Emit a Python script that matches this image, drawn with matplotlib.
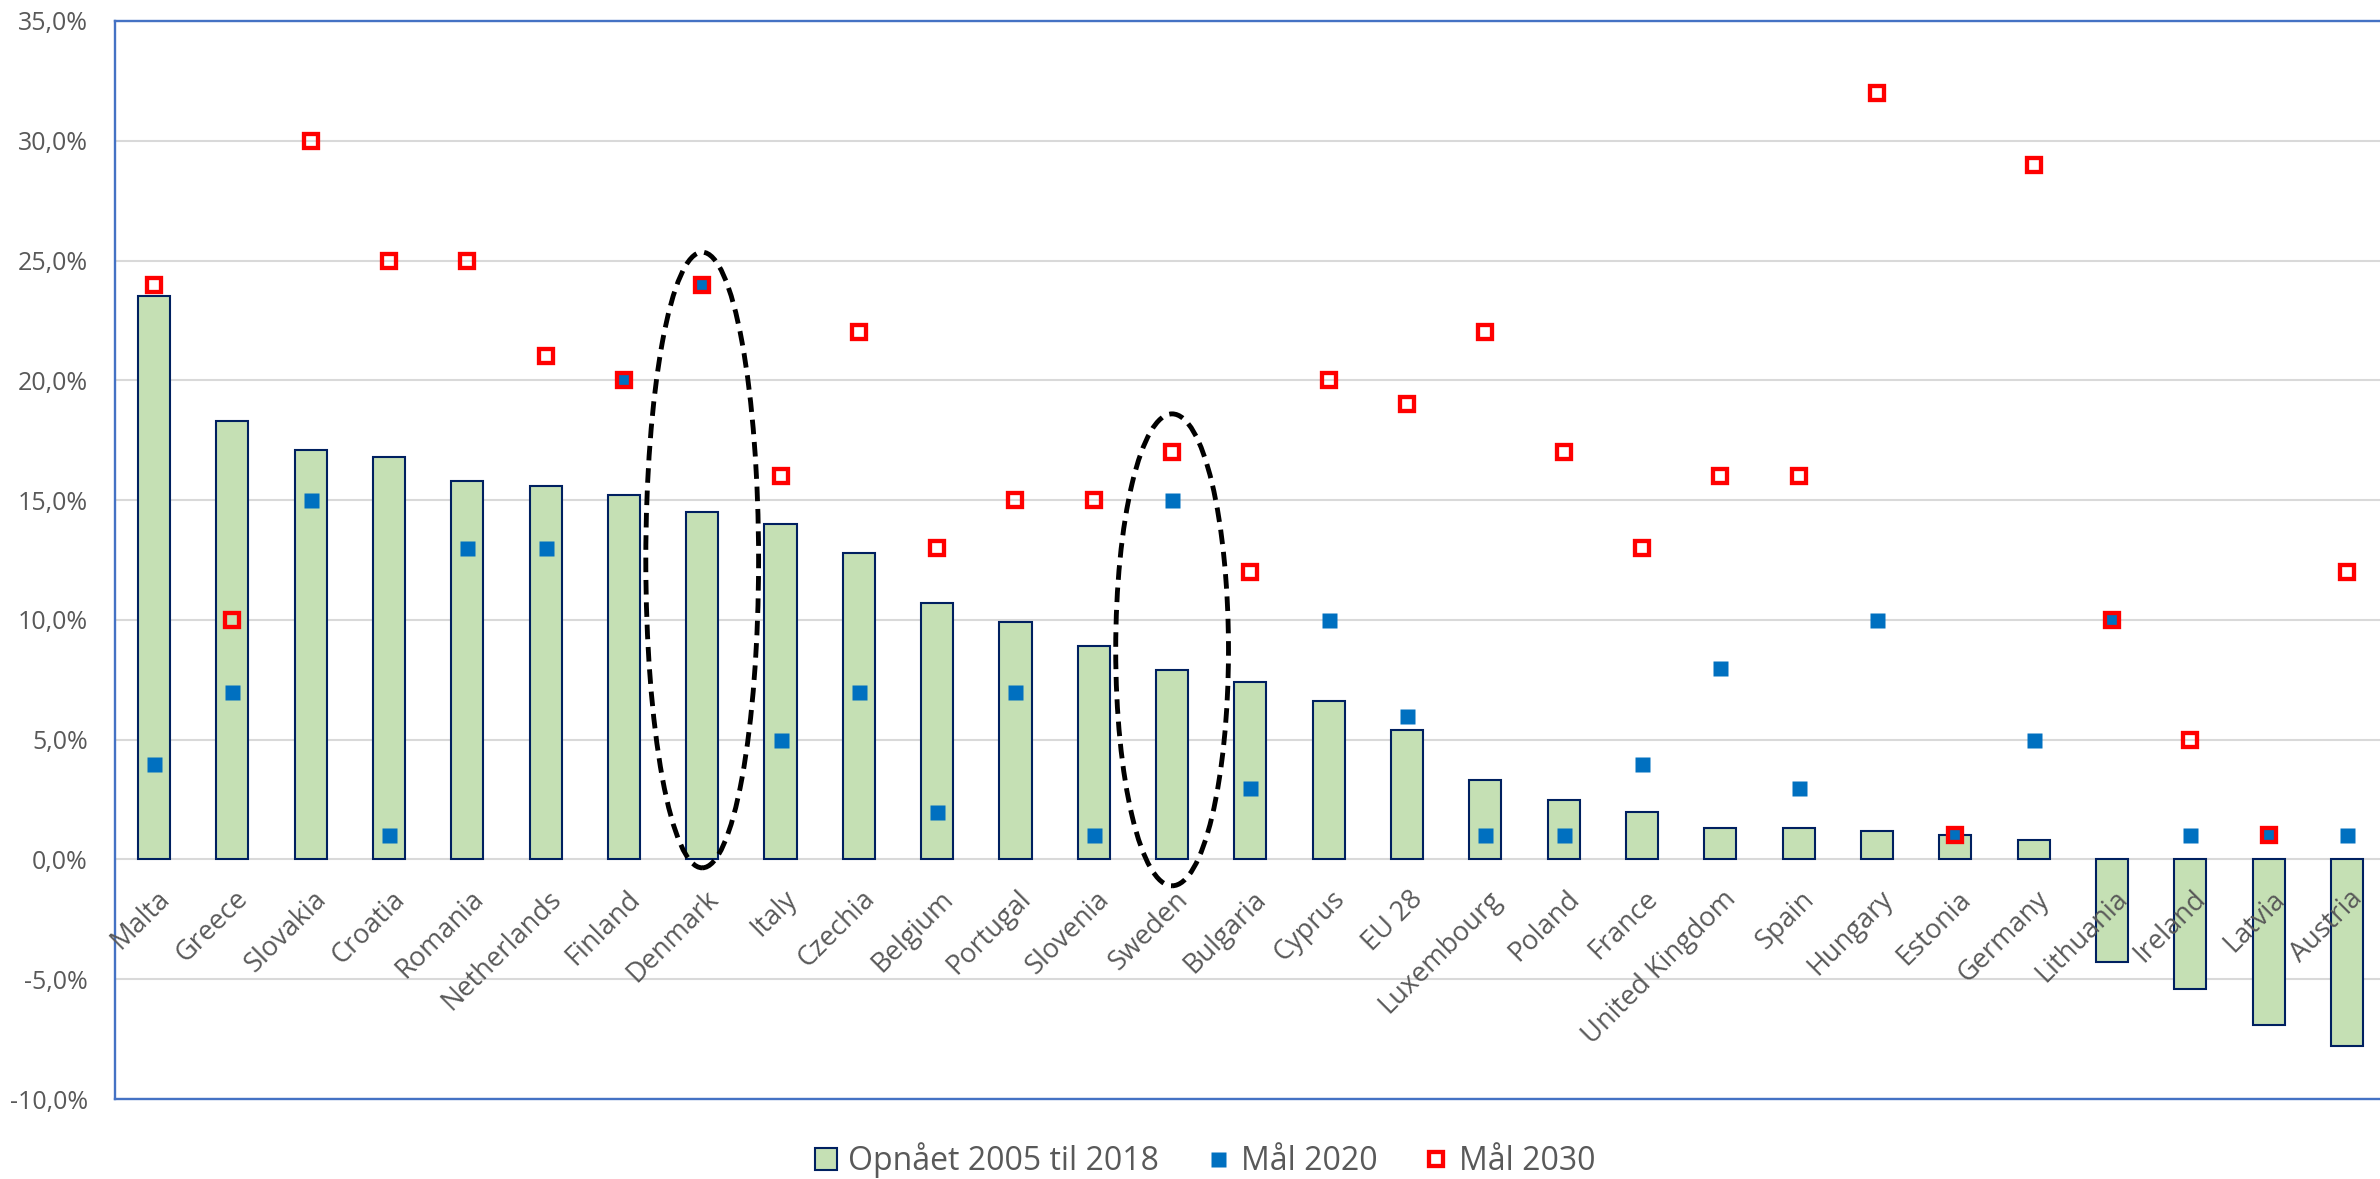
import matplotlib
matplotlib.use("Agg")
import matplotlib.pyplot as plt
from matplotlib.patches import Ellipse, Patch
from matplotlib.ticker import FuncFormatter, MultipleLocator
import numpy as np

# Data: change in emissions achieved 2005-2018 and targets, percent
countries = ["Malta", "Greece", "Slovakia", "Croatia", "Romania", "Netherlands",
             "Finland", "Denmark", "Italy", "Czechia", "Belgium", "Portugal",
             "Slovenia", "Sweden", "Bulgaria", "Cyprus", "EU 28", "Luxembourg",
             "Poland", "France", "United Kingdom", "Spain", "Hungary", "Estonia",
             "Germany", "Lithuania", "Ireland", "Latvia", "Austria"]
achieved = [23.5, 18.3, 17.1, 16.8, 15.8, 15.6, 15.2, 14.5, 14.0, 12.8, 10.7, 9.9,
            8.9, 7.9, 7.4, 6.6, 5.4, 3.3, 2.5, 2.0, 1.3, 1.3, 1.2, 1.0, 0.8,
            -4.3, -5.4, -6.9, -7.8]
target_2020 = [4, 7, 15, 1, 13, 13, 20, 24, 5, 7, 2, 7, 1, 15, 3, 10, 6, 1, 1, 4,
               8, 3, 10, 1, 5, 10, 1, 1, 1]
target_2030 = [24, 10, 30, 25, 25, 21, 20, 24, 16, 22, 13, 15, 15, 17, 12, 20, 19,
               22, 17, 13, 16, 16, 32, 1, 29, 10, 5, 1, 12]

series_labels = ["Opnået 2005 til 2018", "Mål 2020", "Mål 2030"]
highlighted = ["Denmark", "Sweden"]

FONT = ["Open Sans", "DejaVu Sans"]
plt.rcParams["font.family"] = FONT
GREY_TEXT = "#595959"
AXIS_BLUE = "#4472C4"

fig = plt.figure(figsize=(23.8, 11.79), dpi=100)
ax = fig.add_axes([0.04824, 0.06785, 0.9543, 0.91434])

x = np.arange(len(countries))
ax.bar(x, achieved, width=0.41, color="#C5E0B4", edgecolor="#002060",
       linewidth=1.5, zorder=2)
h2020, = ax.plot(x, target_2020, ls="none", marker="s", ms=10.8,
                 mfc="#0070C0", mec="none", zorder=3)
h2030, = ax.plot(x, target_2030, ls="none", marker="s", ms=9.5,
                 mfc="none", mec="#FF0000", mew=3.1, zorder=4)

ax.set_xlim(-0.5, len(countries) - 0.5)
ax.set_ylim(-10, 35)
ax.yaxis.set_major_locator(MultipleLocator(5))
ax.yaxis.set_major_formatter(
    FuncFormatter(lambda v, _: f"{v:.1f}%".replace(".", ",")))
ax.grid(axis="y", color="#D9D9D9", lw=1.5, zorder=0)
ax.set_axisbelow(True)
ax.set_xticks([])
ax.tick_params(axis="y", length=0, pad=19.5, labelsize=18, labelcolor=GREY_TEXT)
for side in ("left", "top", "bottom", "right"):
    ax.spines[side].set_color(AXIS_BLUE)
    ax.spines[side].set_linewidth(1.7)

# Category labels sit next to the zero line
for xi, name in zip(x, countries):
    ax.annotate(name, xy=(xi, 0), xytext=(1.5, -18.5), textcoords="offset points",
                rotation=45, rotation_mode="anchor", ha="right", va="top",
                fontsize=19.5, color=GREY_TEXT, annotation_clip=False)

# Dashed rings around the highlighted countries
rings = {"Denmark": (12.5, 25.7), "Sweden": (8.75, 19.7)}
for name in highlighted:
    yc, hgt = rings[name]
    ax.add_patch(Ellipse((countries.index(name), yc), width=1.44, height=hgt,
                         fill=False, ec="black", lw=3.5, ls=(0, (3, 1.6)),
                         zorder=5))

bar_handle = Patch(facecolor="#C5E0B4", edgecolor="#002060", lw=1.5)
fig.legend([bar_handle, h2020, h2030], series_labels, loc="center",
           bbox_to_anchor=(1205 / 2380, 1 - 1160 / 1179), ncol=3,
           frameon=False, fontsize=23, labelcolor=GREY_TEXT,
           handlelength=0.7, handleheight=0.7, handletextpad=0.35,
           columnspacing=1.5)

fig.savefig("out.png", dpi=100)
